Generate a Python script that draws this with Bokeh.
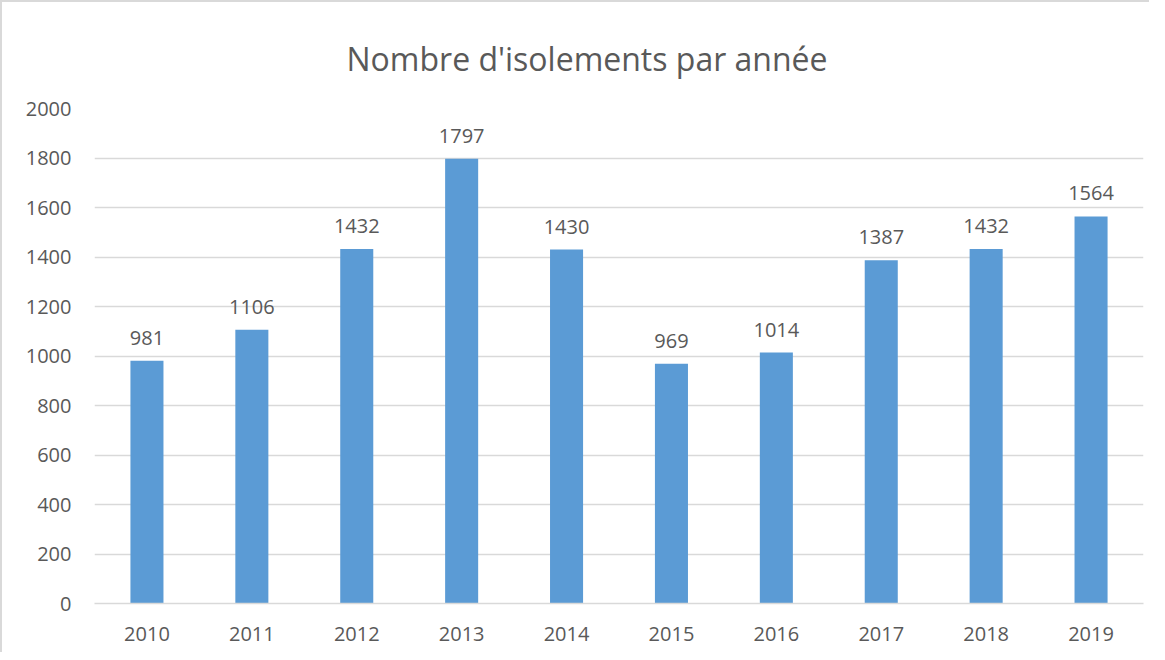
from bokeh.plotting import figure
from bokeh.models import ColumnDataSource, LabelSet, FactorRange, Range1d, FixedTicker, Title
from bokeh.core.properties import value
from bokeh.embed import file_html
from bokeh.resources import INLINE

years = ["2010", "2011", "2012", "2013", "2014", "2015", "2016", "2017", "2018", "2019"]
counts = [981, 1106, 1432, 1797, 1430, 969, 1014, 1387, 1432, 1564]
y_ticks = [0, 200, 400, 600, 800, 1000, 1200, 1400, 1600, 1800, 2000]
title_text = "Nombre d'isolements par année"

FONT = "Open Sans"
TXT = "#595959"
GRID = "#D9D9D9"
BAR = "#5B9BD5"

src = ColumnDataSource(dict(year=years, count=counts, label=[str(c) for c in counts]))

p = figure(
    x_range=FactorRange(*years, range_padding=0),
    y_range=Range1d(0, 2000),
    width=1149, height=652,
    output_backend="svg", toolbar_location=None,
    min_border_left=92, min_border_right=8,
    min_border_top=106, min_border_bottom=51,
)
p.title = Title(text=title_text, align="left", offset=252,
                text_font=FONT, text_font_size="32px", text_font_style="normal",
                text_color=TXT, standoff=57)
p.styles = {"border-left": "2px solid #D9D9D9", "border-top": "2px solid #D9D9D9",
            "margin-bottom": "-10px"}

p.vbar(x="year", top="count", width=0.315, source=src, color=BAR, line_color=None)

labels = LabelSet(x="year", y="count", text="label", source=src,
                  text_align="center", text_baseline="alphabetic", y_offset=16,
                  text_font=value(FONT), text_font_size=value("20px"), text_color=TXT)
p.add_layout(labels)

p.outline_line_color = None
p.xgrid.grid_line_color = None
p.ygrid.grid_line_color = GRID
p.ygrid.grid_line_width = 1.5

p.yaxis.ticker = FixedTicker(ticks=y_ticks)
p.yaxis.axis_line_color = None
p.yaxis.major_tick_line_color = None
p.yaxis.minor_tick_line_color = None
p.yaxis.major_tick_out = 0
p.yaxis.minor_tick_out = 0
p.yaxis.major_label_standoff = 23
p.yaxis.major_label_text_font = FONT
p.yaxis.major_label_text_font_size = "20px"
p.yaxis.major_label_text_color = TXT

p.xaxis.axis_line_color = GRID
p.xaxis.axis_line_width = 1.5
p.xaxis.major_tick_line_color = None
p.xaxis.minor_tick_line_color = None
p.xaxis.major_tick_out = 0
p.xaxis.minor_tick_out = 0
p.xaxis.major_label_standoff = 23
p.xaxis.major_label_text_font = FONT
p.xaxis.major_label_text_font_size = "20px"
p.xaxis.major_label_text_color = TXT

open("out.html", "w").write(file_html(p, INLINE))
